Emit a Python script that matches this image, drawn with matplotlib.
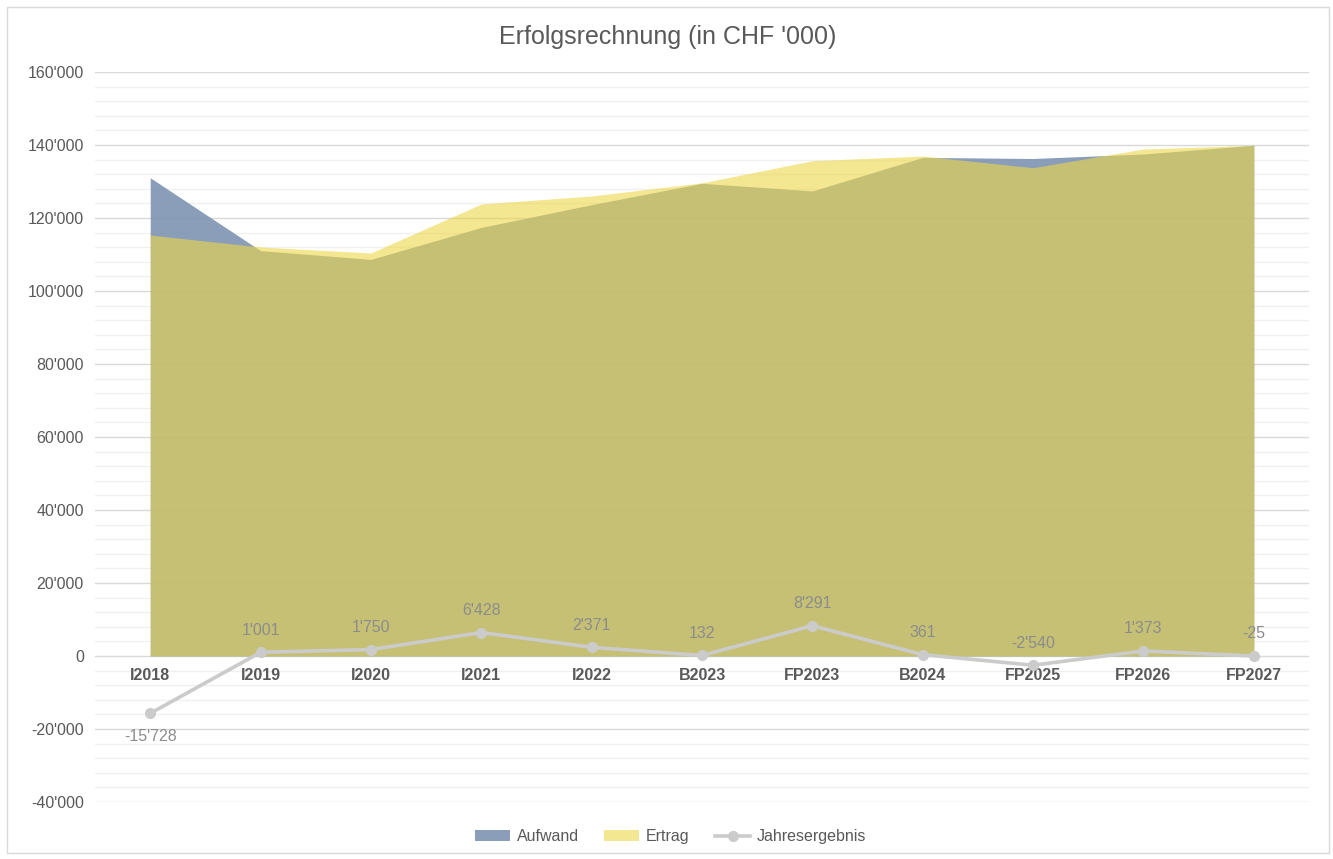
import matplotlib.pyplot as plt
from matplotlib.patches import Rectangle
from matplotlib.ticker import FuncFormatter, MultipleLocator, NullFormatter

PERIODS = ["I2018", "I2019", "I2020", "I2021", "I2022", "B2023",
           "FP2023", "B2024", "FP2025", "FP2026", "FP2027"]
AUFWAND = [131030, 111050, 108660, 117410, 123660, 129500,
           127410, 136600, 136300, 137530, 139925]
ERTRAG = [115300, 112050, 110410, 123840, 126030, 129630,
          135700, 136960, 133760, 138900, 139900]
ERGEBNIS = [-15728, 1001, 1750, 6428, 2371, 132, 8291, 361, -2540, 1373, -25]

TEXT_COLOR = "#595959"
LABEL_COLOR = "#8c8c8c"
BLUE = "#7b91b0"
YELLOW = "#eed749"
LINE_GREY = "#cbcbcb"


def fmt(value, _pos=None):
    return f"{value:,.0f}".replace(",", "'")


plt.rcParams["font.family"] = ["Liberation Sans", "DejaVu Sans"]

fig = plt.figure(figsize=(13.33, 8.59), dpi=100)
ax = fig.add_axes([0.0713, 0.0664, 0.9107, 0.8498])

x = list(range(len(PERIODS)))
ax.fill_between(x, AUFWAND, color=BLUE, alpha=0.88, linewidth=0, label="Aufwand")
ax.fill_between(x, ERTRAG, color=YELLOW, alpha=0.6, linewidth=0, label="Ertrag")
ax.plot(x, ERGEBNIS, color=LINE_GREY, linewidth=2.6, marker="o", markersize=7,
        label="Jahresergebnis", zorder=3)

for xi, val in zip(x, ERGEBNIS):
    below = val < -10000
    ax.annotate(fmt(val), (xi, val), xytext=(0, -17 if below else 16),
                textcoords="offset points", ha="center", va="center",
                fontsize=11.5, color=LABEL_COLOR, zorder=4)

# category labels sit on the zero line, like Excel does it
for xi, name in zip(x, PERIODS):
    ax.annotate(name, (xi, 0), xytext=(0, -14), textcoords="offset points",
                ha="center", va="center", fontsize=11.5, fontweight="bold",
                color=TEXT_COLOR, zorder=2.5)

ax.set_xlim(-0.5, len(PERIODS) - 0.5)
ax.set_ylim(-40000, 160000)
ax.yaxis.set_major_locator(MultipleLocator(20000))
ax.yaxis.set_minor_locator(MultipleLocator(4000))
ax.yaxis.set_major_formatter(FuncFormatter(fmt))
ax.set_axisbelow(True)
ax.grid(axis="y", which="major", color="#d9d9d9", linewidth=1.0)
ax.grid(axis="y", which="minor", color="#f0f0f0", linewidth=1.0)

ax.set_xticks(x)
ax.xaxis.set_major_formatter(NullFormatter())
for side in ("top", "right", "left", "bottom"):
    ax.spines[side].set_visible(False)
ax.tick_params(axis="x", length=0)
ax.tick_params(axis="y", which="both", length=0, pad=8, labelsize=11.5,
               labelcolor=TEXT_COLOR)

fig.text(0.501, 0.957, "Erfolgsrechnung (in CHF '000)", ha="center", va="center",
         fontsize=18, color=TEXT_COLOR)

fig.legend(loc="center", bbox_to_anchor=(0.503, 0.026), ncol=3, frameon=False,
           fontsize=11.5, labelcolor=TEXT_COLOR, handlelength=2.2,
           handleheight=0.6, columnspacing=1.6, handletextpad=0.4)

fig.patches.append(Rectangle((7 / 1333, 6 / 859), 1322 / 1333, 846 / 859,
                             transform=fig.transFigure, fill=False,
                             edgecolor="#d9d9d9", linewidth=1.0))

fig.savefig("out.png", dpi=100)
